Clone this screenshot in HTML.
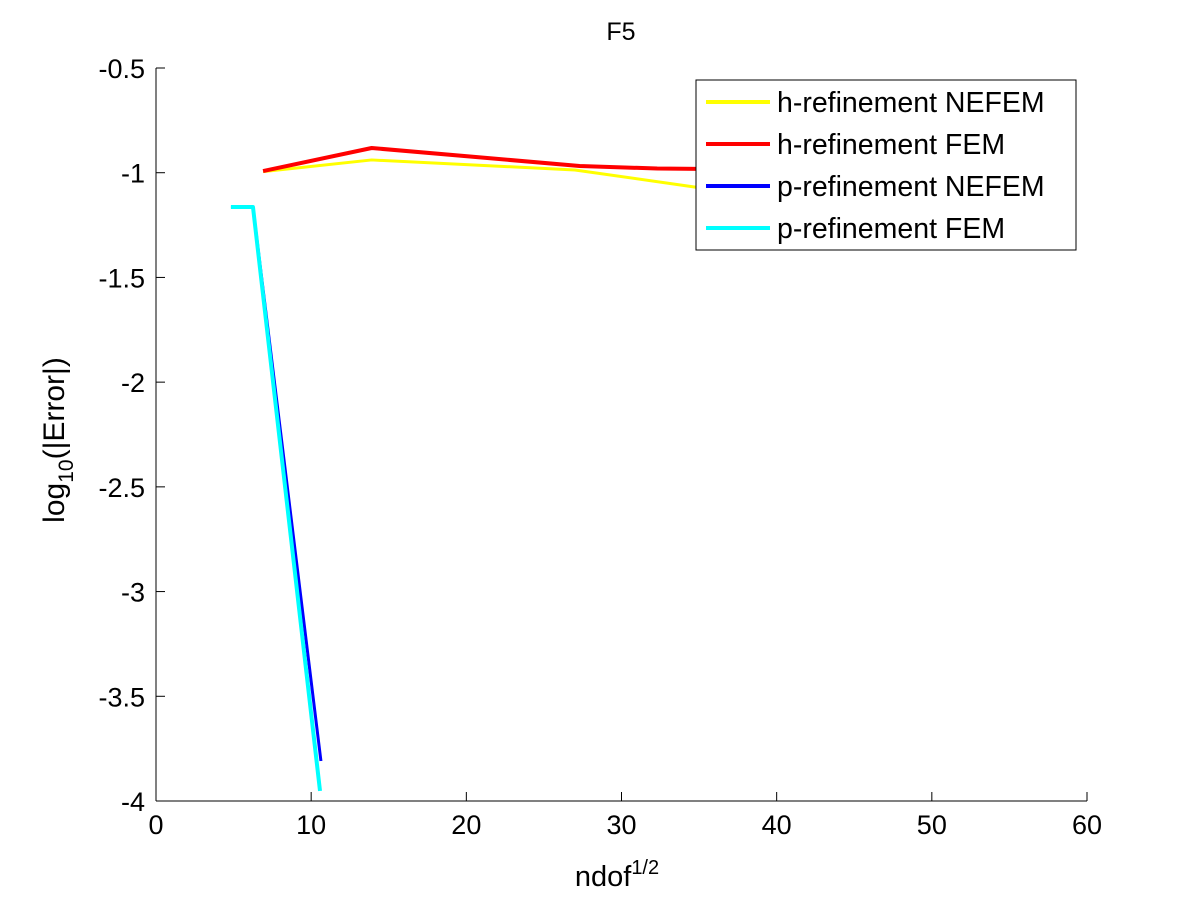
<!DOCTYPE html>
<html><head><meta charset="utf-8"><style>
body{margin:0;background:#fff;}
svg text{font-family:"Liberation Sans",sans-serif;}
</style></head><body>
<svg width="1200" height="901" id="c">
<rect x="0" y="0" width="1200" height="901" fill="#fff"/>
<rect x="156" y="68" width="931" height="733" fill="#fff"/>
<g id="lines"></g>
<g id="axes"></g>
<text x="621" y="40" font-size="25" text-anchor="middle">F5</text>
<text x="617" y="886" font-size="29" text-anchor="middle">ndof<tspan font-size="20" dy="-12">1/2</tspan></text>
<text transform="translate(64,440) rotate(-90)" font-size="30" text-anchor="middle">log<tspan font-size="21" dy="9">10</tspan><tspan dy="-9">(|Error|)</tspan></text>
<g>
<rect x="696" y="80" width="380" height="170" fill="#fff" stroke="#000" stroke-width="1"/>
<g id="leg"></g>
</g>
</svg>
<script>
const xTicks=[0,10,20,30,40,50,60];
const yTicks=[-0.5,-1,-1.5,-2,-2.5,-3,-3.5,-4];
const seriesNames=["h-refinement NEFEM","h-refinement FEM","p-refinement NEFEM","p-refinement FEM"];
const seriesColors=["#ffff00","#ff0000","#0000ff","#00ffff"];
const hNefemX=[6.9,13.9,27.0,34.7,40];
const hNefemY=[-0.995,-0.939,-0.987,-1.068,-1.12];
const hFemX=[6.9,13.9,27.3,32.3,40];
const hFemY=[-0.992,-0.882,-0.968,-0.98,-0.985];
const pNefemX=[4.83,6.25,10.63];
const pNefemY=[-1.164,-1.164,-3.809];
const pFemX=[4.83,6.25,10.57];
const pFemY=[-1.164,-1.164,-3.952];
const ns="http://www.w3.org/2000/svg";
const X0=156,X1=1087,Y0=801,Y1=68;
function sx(v){return X0+(v-0)/(60-0)*(X1-X0);}
function sy(v){return Y0-(v-(-4))/(-0.5-(-4))*(Y0-Y1);}
function mk(t,a,p){const e=document.createElementNS(ns,t);for(const k in a)e.setAttribute(k,a[k]);p.appendChild(e);return e;}
const L=document.getElementById('lines');
const xs=[hNefemX,hFemX,pNefemX,pFemX],ys=[hNefemY,hFemY,pNefemY,pFemY];
const widths=[3,4,3,4];
for(let s=0;s<4;s++){
 const pts=xs[s].map((x,i)=>sx(x)+","+sy(ys[s][i])).join(" ");
 const pl=mk('polyline',{points:pts,fill:'none',stroke:seriesColors[s],'stroke-width':widths[s],'stroke-linejoin':'round'},L);
 
 
}
const A=document.getElementById('axes');
mk('line',{x1:X0,y1:Y0,x2:X1,y2:Y0,stroke:'#000'},A);
mk('line',{x1:X0,y1:Y0,x2:X0,y2:Y1,stroke:'#000'},A);
xTicks.forEach(t=>{const x=sx(t);
 mk('line',{x1:x,y1:Y0,x2:x,y2:Y0-9,stroke:'#000'},A);
 const tx=mk('text',{x:x,y:Y0+33,'font-size':27,'text-anchor':'middle'},A);tx.textContent=t;
 
 
});
yTicks.forEach(t=>{const y=sy(t);
 mk('line',{x1:X0,y1:y,x2:X0+9,y2:y,stroke:'#000'},A);
 const tx=mk('text',{x:X0-11,y:y+10,'font-size':27,'text-anchor':'end'},A);tx.textContent=t;
 
 
});
const G=document.getElementById('leg');
seriesNames.forEach((n,i)=>{const y=102+i*42;
 const g=mk('g',{},G);
 
 
 mk('line',{x1:706,y1:y,x2:770,y2:y,stroke:seriesColors[i],'stroke-width':4},g);
 const t=mk('text',{x:777,y:y+10,'font-size':28.5},g);t.textContent=n;
});
</script>
</body></html>
